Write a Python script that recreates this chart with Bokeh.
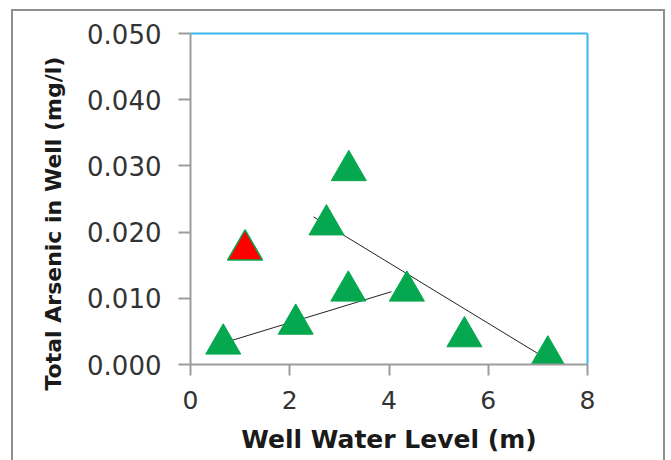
from bokeh.plotting import figure
from bokeh.models import Range1d, FixedTicker, LinearAxis, Title, PrintfTickFormatter
from bokeh.embed import file_html
from bokeh.resources import INLINE

# ---- data ----
well_level_green = [0.66, 2.12, 3.18, 4.36, 2.74, 3.19, 5.52, 7.20]
arsenic_green = [0.0031, 0.0061, 0.0111, 0.0111, 0.0211, 0.0293, 0.0042, 0.0013]
well_level_red = [1.10]
arsenic_red = [0.0173]
trend1_x = [0.64, 4.05]
trend1_y = [0.0032, 0.0110]
trend2_x = [2.48, 7.10]
trend2_y = [0.0223, 0.0012]
x_ticks = [0, 2, 4, 6, 8]
y_ticks = [0.0, 0.01, 0.02, 0.03, 0.04, 0.05]
x_title = "Well Water Level (m)"
y_title = "Total Arsenic in Well (mg/l)"

TICK_FONT = "DejaVu Sans"
TITLE_FONT = "DejaVu Sans"
AXIS_GRAY = "#9c9c9c"
CYAN = "#3db6ef"
GREEN = "#05a84e"

p = figure(
    width=654, height=468,
    x_range=Range1d(0, 8), y_range=Range1d(0, 0.05),
    output_backend="svg", toolbar_location=None,
    min_border_left=177, min_border_right=80,
    min_border_top=22, min_border_bottom=115,
    x_axis_location=None, y_axis_location=None,
    styles={
        "margin-left": "11px", "margin-top": "9px",
        "border-left": "2px solid #8f8f8f",
        "border-top": "2px solid #8f8f8f",
        "border-right": "2px solid #8f8f8f",
    },
)
p.grid.visible = False
p.outline_line_color = None
p.background_fill_color = "white"
p.border_fill_color = "white"

# bottom axis
xa = LinearAxis(ticker=FixedTicker(ticks=x_ticks))
xa.axis_label = x_title
xa.axis_label_text_font = TITLE_FONT
xa.axis_label_text_font_style = "bold"
xa.axis_label_text_font_size = "25px"
xa.axis_label_text_color = "#1a1a1a"
xa.axis_label_standoff = 13
xa.major_label_text_font = TICK_FONT
xa.major_label_text_font_size = "25px"
xa.major_label_text_color = "#333333"
xa.major_label_standoff = 15
xa.axis_line_color = AXIS_GRAY
xa.axis_line_width = 2
xa.major_tick_line_color = AXIS_GRAY
xa.major_tick_line_width = 2
xa.major_tick_out = 11
xa.major_tick_in = 0
xa.minor_tick_line_color = None
p.add_layout(xa, "below")

# left axis
ya = LinearAxis(ticker=FixedTicker(ticks=y_ticks), formatter=PrintfTickFormatter(format="%.3f"))
ya.major_label_text_font = TICK_FONT
ya.major_label_text_font_size = "26px"
ya.major_label_text_color = "#333333"
ya.major_label_standoff = 17
ya.axis_line_color = AXIS_GRAY
ya.axis_line_width = 2
ya.major_tick_line_color = AXIS_GRAY
ya.major_tick_line_width = 2
ya.major_tick_out = 12
ya.major_tick_in = 0
ya.minor_tick_line_color = None
p.add_layout(ya, "left")

# top / right frame lines in cyan
for loc in ("above", "right"):
    ax = LinearAxis(ticker=FixedTicker(ticks=[]))
    ax.major_label_text_font_size = "0px"
    ax.axis_line_color = CYAN
    ax.axis_line_width = 2
    ax.major_tick_line_color = None
    ax.minor_tick_line_color = None
    p.add_layout(ax, loc)

# y title (placed lower than centre, as in the reference)
p.add_layout(Title(
    text=y_title, align="left", offset=-26, standoff=38,
    text_font=TITLE_FONT, text_font_style="bold", text_font_size="22px",
    text_color="#1a1a1a",
), "left")

# trend lines
p.line(trend1_x, trend1_y, line_color="#222222", line_width=1)
p.line(trend2_x, trend2_y, line_color="#222222", line_width=1)

# markers
p.scatter(well_level_green, arsenic_green, marker="triangle", size=35,
          fill_color=GREEN, line_color=GREEN, line_width=1)
p.scatter(well_level_red, arsenic_red, marker="triangle", size=35,
          fill_color="#ff0000", line_color=GREEN, line_width=1.5)

open("out.html", "w").write(file_html(p, INLINE))
